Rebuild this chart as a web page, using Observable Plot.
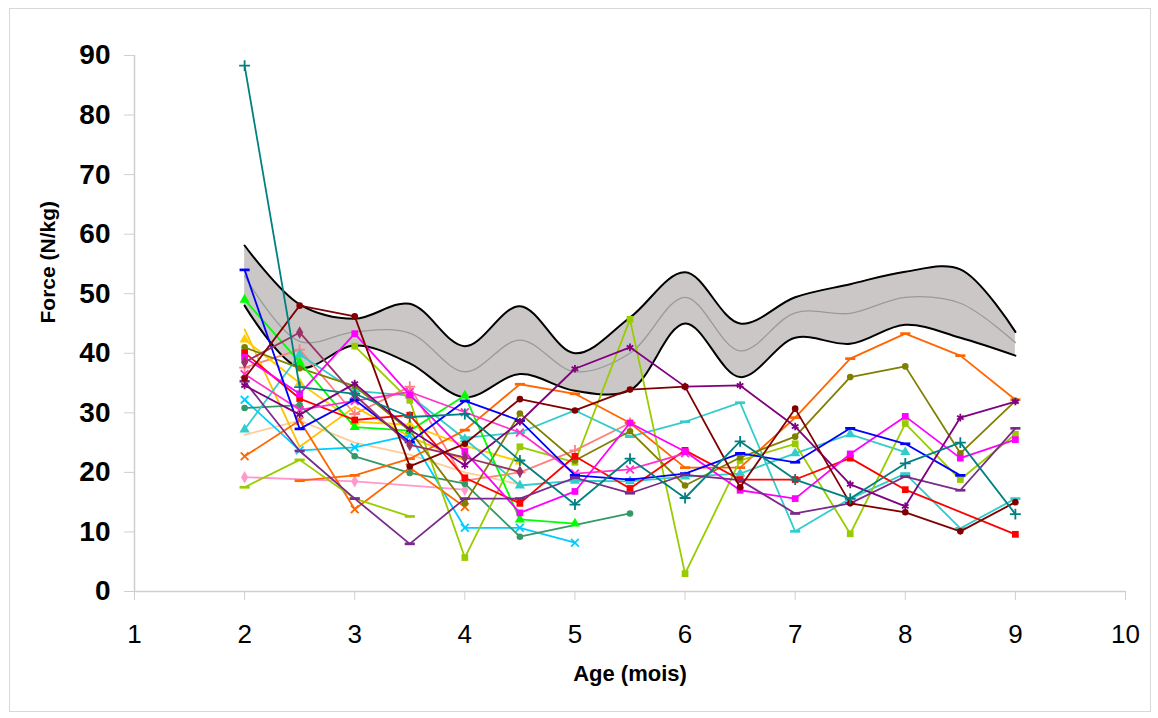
<!DOCTYPE html>
<html>
<head>
<meta charset="utf-8">
<script src="https://cdn.jsdelivr.net/npm/d3@7"></script>
<script src="https://cdn.jsdelivr.net/npm/@observablehq/plot@0.6"></script>
<style>
  html, body { margin: 0; padding: 0; background: #fff; }
  #wrap { position: relative; width: 1158px; height: 718px; }
  #frame { position: absolute; left: 9px; top: 8px; width: 1140px; height: 702px; border: 1px solid #d8d8d8; pointer-events: none; }
  #chart { position: absolute; left: 0; top: 0; }
</style>
</head>
<body>
<div id="wrap"><div id="chart"></div><div id="frame"></div></div>
<script>
// ---- Data ----
const ages = [2, 2.5, 3, 3.5, 4, 4.5, 5, 5.5, 6, 6.5, 7, 7.5, 8, 8.5, 9];
const xTicks = [1, 2, 3, 4, 5, 6, 7, 8, 9, 10];
const yTicks = [0, 10, 20, 30, 40, 50, 60, 70, 80, 90];

// reference band (upper / lower limits and mean)
const bandUpper = [58.1, 48.2, 45.8, 48.3, 41.2, 47.9, 40.0, 46.0, 53.6, 45.0, 49.4, 51.6, 53.7, 54.1, 43.6];
const bandLower = [48.0, 37.6, 41.3, 38.3, 32.6, 36.5, 33.7, 33.8, 45.0, 36.0, 42.6, 41.6, 44.8, 42.6, 39.6];
const bandMean  = [53.0, 42.0, 43.6, 43.4, 36.9, 42.2, 36.9, 40.0, 49.4, 40.4, 46.8, 46.7, 49.4, 48.4, 41.8];

// individual subjects (null = no measure)
const sTeal      = [88.3, 34.3, 33.2, 29.3, 29.8, 22.0, 14.6, 22.3, 15.7, 25.2, 18.8, 15.6, 21.5, 25.0, 13.0];
const sMaroon    = [35.8, 48.0, 46.2, 21.0, 24.8, 32.3, 30.4, 33.9, 34.4, 17.5, 30.7, 14.8, 13.3, 10.1, 15.0];
const sPurple    = [34.6, 29.7, 34.9, 27.2, 21.2, 28.5, 37.4, 41.0, 34.4, 34.6, 27.7, 18.0, 14.3, 29.2, 31.9];
const sViolet    = [35.3, 23.6, 15.6, 8.0, 15.6, 15.6, 19.1, 16.5, 19.6, 18.7, 13.1, 14.8, 19.3, 17.0, 27.4];
const sMauve     = [38.5, 43.5, 33.0, 24.6, 22.5, 20.1, null, null, null, null, null, null, null, null, null];
const sBlue      = [54.0, 27.3, 32.2, 25.1, 32.0, 28.7, 19.5, 18.8, 19.8, 23.2, 21.7, 27.4, 24.8, 19.5, null];
const sMagenta   = [39.3, 33.2, 43.3, 33.0, 23.5, 13.2, 16.8, 28.3, 23.5, 17.0, 15.6, 23.1, 29.4, 22.4, 25.5];
const sMagentaX  = [36.5, 30.5, 32.0, 33.5, 30.1, 26.7, 19.8, 20.5, 23.2, null, null, null, null, null, null];
const sRed       = [40.1, 32.4, 28.8, 29.6, 19.1, 14.8, 22.7, 17.3, 23.7, 18.8, 18.8, 22.4, 17.1, null, 9.6];
const sLime      = [49.0, 38.5, 27.6, 27.0, 32.9, 12.1, 11.4, null, null, null, null, null, null, null, null];
const sOlive     = [41.0, 37.5, 34.5, 27.0, 14.8, 29.9, 22.0, 26.9, 17.8, 22.5, 26.0, 36.0, 37.8, 23.2, 32.0];
const sYGreen    = [null, null, 41.2, 32.1, 5.7, 24.3, 21.7, 45.7, 3.0, 22.0, 24.8, 9.7, 28.2, 18.8, 26.4];
const sYGreen2   = [17.5, 22.1, 15.6, 12.6, null, null, null, null, null, null, null, null, null, null, null];
const sOrangeX   = [22.7, 28.7, 13.8, 20.8, 14.2, null, null, null, null, null, null, null, null, null, null];
const sOrange    = [null, 18.6, 19.5, 22.3, 27.1, 34.8, 33.2, 28.3, 20.8, 20.8, 29.2, 39.1, 43.3, 39.6, 32.2];
const sGold      = [42.3, 35.0, 28.5, 28.0, 24.5, 21.8, null, null, null, null, null, null, null, null, null];
const sGold2     = [44.0, 24.3, 31.0, 26.0, 22.0, null, null, null, null, null, null, null, null, null, null];
const sSeaGreen  = [30.8, 31.3, 22.7, 19.9, 18.1, 9.2, null, 13.1, null, null, null, null, null, null, null];
const sTurq      = [27.2, 39.8, 33.7, 32.9, 25.6, 17.8, 18.6, 18.5, 19.3, 19.8, 23.2, 26.4, 23.4, null, null];
const sTurq2     = [null, null, null, null, 25.8, 26.7, 30.4, 26.0, 28.5, 31.7, 10.1, 15.6, 19.8, 10.6, 15.6];
const sSky       = [32.2, 23.7, 24.2, 26.2, 10.7, 10.7, 8.2, null, null, null, null, null, null, null, null];
const sPink      = [19.2, null, 18.5, null, 17.1, null, null, null, null, null, null, null, null, null, null];
const sSalmon    = [37.6, 40.6, 29.8, 34.4, 18.6, 20.0, 23.7, 28.3, null, null, null, null, null, null, null];
const sPeach     = [26.3, 28.7, 25.0, 23.0, 20.0, 18.0, null, null, null, null, null, null, null, null, null];

const seriesValues = [sPeach, sPink, sSalmon, sGold2, sGold, sSky, sSeaGreen, sTurq2, sTurq, sOrangeX, sOrange,
  sYGreen2, sYGreen, sOlive, sLime, sRed, sMagentaX, sMagenta, sBlue, sMauve, sViolet, sPurple, sMaroon, sTeal];
const seriesColors = ["#FFCC99", "#FF99CC", "#FF8080", "#FFC000", "#FFCC00", "#00CCFF", "#339966", "#33CCCC", "#33CCCC", "#FF6600", "#FF6600",
  "#99CC00", "#99CC00", "#808000", "#00FF00", "#FF0000", "#FF33CC", "#FF00FF", "#0000FF", "#993366", "#7A2A8A", "#800080", "#800000", "#008080"];
const seriesMarkers = ["none", "diamond", "plus", "none", "triangle", "times", "circle", "dash", "triangle", "times", "dash",
  "dash", "square", "circle", "triangle", "square", "times", "square", "dash", "diamond", "dash", "asterisk", "circle", "plus"];

// ---- Build tables ----
const band = ages.map((x, i) => ({x, lo: bandLower[i], hi: bandUpper[i], mean: bandMean[i]}));
const dashSymbol = {draw(ctx, size) { const w = Math.sqrt(size) * 0.75, h = Math.sqrt(size) * 0.2; ctx.rect(-w, -h, 2 * w, 2 * h); }};
const strokeOnly = new Set(["plus", "times", "asterisk"]);

const marks = [
  Plot.ruleY([0], {stroke: "#cfcfcf", strokeWidth: 1.5}),
  Plot.ruleX([1], {stroke: "#cfcfcf", strokeWidth: 1.5}),
  Plot.axisY({ticks: yTicks, tickSize: 10, tickPadding: 14, stroke: "#cfcfcf", fontSize: 28, fontWeight: "bold", fill: "#000", label: null}),
  Plot.axisX({ticks: xTicks, tickSize: 9, tickPadding: 24, stroke: "#cfcfcf", fontSize: 26, fill: "#000", label: null, tickFormat: d3.format("d")}),
  Plot.areaY(band, {x: "x", y1: "lo", y2: "hi", curve: "catmull-rom", fill: "#cbc7c7"}),
  Plot.line(band, {x: "x", y: "hi", curve: "catmull-rom", stroke: "#000", strokeWidth: 2}),
  Plot.line(band, {x: "x", y: "lo", curve: "catmull-rom", stroke: "#000", strokeWidth: 2}),
  Plot.line(band, {x: "x", y: "mean", curve: "catmull-rom", stroke: "#9a9a9a", strokeWidth: 1.3})
];

seriesValues.forEach((vals, i) => {
  const rows = ages.map((x, j) => ({x, y: vals[j]})).filter(d => d.y != null);
  const color = seriesColors[i];
  const m = seriesMarkers[i];
  marks.push(Plot.line(rows, {x: "x", y: "y", stroke: color, strokeWidth: 1.8}));
  if (m === "none") return;
  if (strokeOnly.has(m)) {
    marks.push(Plot.dot(rows, {x: "x", y: "y", symbol: m, r: 3.6, stroke: color, strokeWidth: 1.8, fill: "none"}));
  } else {
    marks.push(Plot.dot(rows, {x: "x", y: "y", symbol: m === "dash" ? dashSymbol : m, r: m === "circle" ? 3.3 : 3.8, fill: color, stroke: "none"}));
  }
});

marks.push(Plot.text(["Age (mois)"], {frameAnchor: "bottom", dy: 89, fontSize: 22, fontWeight: "bold", fill: "#000"}));
marks.push(Plot.text(["Force (N/kg)"], {frameAnchor: "left", dx: -86, rotate: -90, fontSize: 21, fontWeight: "bold", fill: "#000"}));

const chart = Plot.plot({
  width: 1158,
  height: 718,
  marginLeft: 134,
  marginRight: 33,
  marginTop: 55,
  marginBottom: 127,
  style: {fontFamily: "Arial, 'Liberation Sans', sans-serif", background: "transparent", overflow: "visible"},
  x: {domain: [1, 10], axis: null},
  y: {domain: [0, 90], axis: null},
  marks
});
document.getElementById("chart").appendChild(chart);
</script>
</body>
</html>
